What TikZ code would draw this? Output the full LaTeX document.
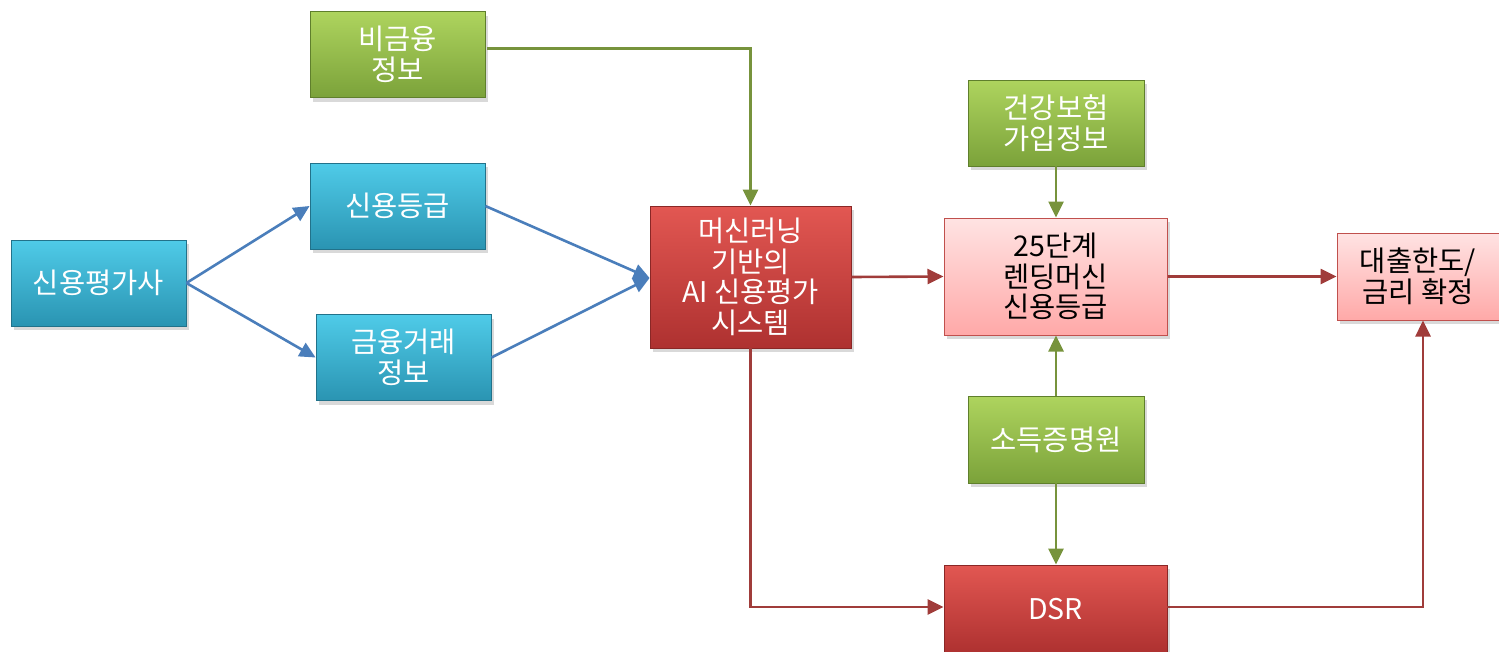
\documentclass[tikz,border=0pt]{standalone}
\usepackage{fontspec}
\newfontfamily\kr{Noto Sans CJK KR}
\usetikzlibrary{arrows.meta,shadows}
\definecolor{bluetop}{HTML}{4FCBE8}
\definecolor{bluebot}{HTML}{2A94B2}
\definecolor{blueedge}{HTML}{22728A}
\definecolor{greentop}{HTML}{AED45E}
\definecolor{greenbot}{HTML}{7BA23A}
\definecolor{greenedge}{HTML}{5F7F2C}
\definecolor{redtop}{HTML}{E25752}
\definecolor{redbot}{HTML}{AE3130}
\definecolor{rededge}{HTML}{8A2726}
\definecolor{pinktop}{HTML}{FFE3E3}
\definecolor{pinkbot}{HTML}{FFA9A8}
\definecolor{pinkedge}{HTML}{C0504D}
\definecolor{bluearrow}{HTML}{4A7EBB}
\definecolor{greenarrow}{HTML}{77933C}
\definecolor{redarrow}{HTML}{A03C3A}
\tikzset{
  box/.style={rectangle, minimum width=175pt, minimum height=86pt, align=center,
    font=\kr\fontsize{28.5}{30.5}\selectfont, inner sep=1pt,
    drop shadow={shadow xshift=3pt, shadow yshift=-4pt, opacity=0.3}},
  bluebox/.style={box, top color=bluetop, bottom color=bluebot, draw=blueedge, line width=0.8pt, text=white},
  greenbox/.style={box, top color=greentop, bottom color=greenbot, draw=greenedge, line width=0.8pt, text=white},
  redbox/.style={box, top color=redtop, bottom color=redbot, draw=rededge, line width=0.8pt, text=white},
  pinkbox/.style={box, top color=pinktop, bottom color=pinkbot, draw=pinkedge, line width=1pt, text=black, drop shadow={opacity=0}},
  conn/.style={line width=2.6pt, -{Triangle[length=16pt,width=15pt]}},
  bconn/.style={conn, draw=bluearrow},
  gconn/.style={conn, draw=greenarrow},
  rconn/.style={conn, draw=redarrow},
}
\begin{document}
\begin{tikzpicture}[x=1pt,y=-1pt]
\useasboundingbox (0,0) rectangle (1499,651);
\node[bluebox] (cra) at (98.5,283) {신용평가사};
\node[bluebox] (grade) at (397.5,206) {신용등급};
\node[bluebox] (fin) at (403.5,357.5) {금융거래\\정보};
\node[greenbox] (nonfin) at (397.5,54.5) {비금융\\정보};
\node[redbox, minimum width=201pt, minimum height=142pt] (ai) at (750.5,277) {머신러닝\\기반의\\AI 신용평가\\시스템};
\node[greenbox, minimum width=176pt] (health) at (1056,123) {건강보험\\가입정보};
\node[pinkbox, minimum width=223pt, minimum height=117pt] (lm) at (1055.5,276.5) {25단계\\렌딩머신\\신용등급};
\node[greenbox, minimum width=176pt, minimum height=87pt] (inc) at (1056,439.5) {소득증명원};
\node[redbox, minimum width=223pt, minimum height=88pt] (dsr) at (1055.5,609) {DSR};
\node[pinkbox, minimum width=162pt, minimum height=87pt] (loan) at (1418,276.5) {대출한도/\\금리 확정};

\draw[bconn] (cra.east) -- (grade.west);
\draw[bconn] (cra.east) -- (fin.west);
\draw[bconn] (grade.east) -- ([yshift=-1pt]ai.west);
\draw[bconn] (fin.east) -- ([yshift=-1pt]ai.west);
\coordinate (c1) at (750.5,48.5);
\draw[gconn] ([xshift=2pt]nonfin.east |- c1) -- (c1) -- (ai.north);
\draw[rconn] (ai.east) -- (lm.west);
\coordinate (c2) at (750.5,607);
\draw[rconn] (ai.south) -- (c2) -- (dsr.west |- c2);
\draw[gconn] (health.south) -- (health.south |- lm.north);
\draw[gconn] (inc.north) -- (inc.north |- lm.south);
\draw[gconn] (inc.south) -- (inc.south |- dsr.north);
\draw[rconn] (lm.east) -- (loan.west);
\coordinate (c3) at (1423,607);
\draw[rconn] (dsr.east |- c3) -- (c3) -- (c3 |- loan.south);
\end{tikzpicture}
\end{document}
